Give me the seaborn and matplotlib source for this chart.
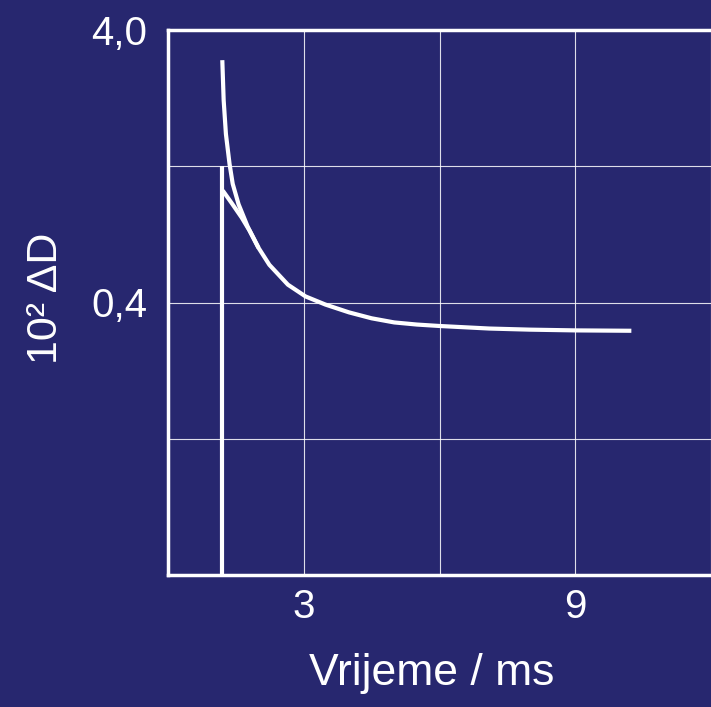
import matplotlib
matplotlib.use("Agg")
import pandas as pd
import matplotlib.pyplot as plt
import seaborn as sns

# Values (x in ms, y = 10^2 * delta D, log scale)
upper_x = [1.20, 1.23, 1.28, 1.36, 1.43, 1.56, 1.76, 2.00, 2.24, 2.65, 3.04, 3.48, 4.00, 4.50,
           5.00, 5.50, 6.00, 7.10, 8.00, 9.01, 10.24]
upper_y = [3.10, 2.21, 1.66, 1.29, 1.09, 0.917, 0.76, 0.635, 0.55, 0.465, 0.421, 0.393, 0.368, 0.350,
           0.338, 0.332, 0.328, 0.321, 0.318, 0.316, 0.315]
lower_x = [1.21, 1.42, 1.63, 1.80, 2.00]
lower_y = [1.03, 0.92, 0.819, 0.735, 0.635]
marker_x = [1.20, 1.20]
marker_y = [1.265, 0.04]

x_ticks = [0, 3, 6, 9, 12]
x_labels = ["", "3", "", "9", ""]
y_ticks = [0.04, 0.1265, 0.4, 1.265, 4.0]
y_labels = ["", "", "0,4", "", "4,0"]

bg = "#27276f"
sns.set_style("dark", {"axes.facecolor": bg, "figure.facecolor": bg})
plt.rcParams["font.family"] = ["Liberation Sans", "DejaVu Sans"]

fig = plt.figure(figsize=(7.11, 7.07), dpi=100)
ax = fig.add_axes([168 / 711, 1 - 575 / 707, 543 / 711, 545 / 707])

upper = pd.DataFrame({"x": upper_x, "y": upper_y})
lower = pd.DataFrame({"x": lower_x, "y": lower_y})
marker = pd.DataFrame({"x": marker_x, "y": marker_y})

for df in (upper, lower, marker):
    sns.lineplot(data=df, x="x", y="y", ax=ax, color="white", linewidth=3,
                 sort=False, estimator=None, solid_capstyle="butt",
                 solid_joinstyle="round")

ax.set_yscale("log")
ax.set_xlim(0, 12)
ax.set_ylim(0.04, 4.0)
ax.set_xticks(x_ticks)
ax.set_xticklabels(x_labels)
ax.set_yticks(y_ticks)
ax.set_yticklabels(y_labels)
ax.minorticks_off()
ax.grid(True, color="white", linewidth=0.8, alpha=0.85)

for side in ["left", "bottom", "top"]:
    ax.spines[side].set_visible(True)
    ax.spines[side].set_color("white")
    ax.spines[side].set_linewidth(2.5)
ax.spines["right"].set_visible(False)

ax.tick_params(axis="both", length=0, labelcolor="white", labelsize=29)
ax.tick_params(axis="y", pad=15)
ax.tick_params(axis="x", pad=9)

ax.set_xlabel("Vrijeme / ms", color="white", fontsize=32)
ax.set_ylabel("10² ΔD", color="white", fontsize=31)
ax.xaxis.set_label_coords(0.486, -0.143)
ax.yaxis.set_label_coords(-0.188, 0.508)

fig.savefig("out.png", dpi=100, facecolor=bg)
